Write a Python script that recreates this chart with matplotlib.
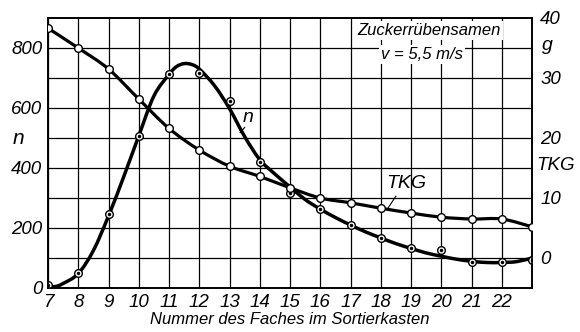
import matplotlib
matplotlib.use("Agg")
import matplotlib.pyplot as plt
from matplotlib.path import Path
from matplotlib.patches import PathPatch

# Messpunkte je Fach
fach = list(range(7, 24))
tkg = [38.3, 35.0, 31.5, 26.5, 21.6, 18.0, 15.3, 13.6, 11.7, 10.0,
       9.2, 8.3, 7.5, 6.8, 6.5, 6.5, 5.2]
n_mess = [10, 50, 247, 507, 715, 717, 623, 420, 317, 263,
          210, 167, 132, 127, 87, 87, 93]

# ausgeglichene Kurve fuer n
kurve_x = [7, 7.25, 7.5, 8, 8.5, 9, 9.5, 10, 10.5, 11, 11.25, 11.5, 11.75,
           12, 12.5, 13, 13.5, 14, 14.5, 15, 15.5, 16, 16.5, 17, 17.5, 18,
           18.5, 19, 19.5, 20, 20.5, 21, 21.5, 22, 22.5, 23]
kurve_n = [3, 5, 15, 48, 125, 240, 370, 507, 640, 712, 738, 748, 745,
           730, 675, 598, 505, 428, 380, 337, 295, 263, 235, 210, 187, 167,
           148, 132, 117, 106, 96, 89, 85, 85, 88, 100]

x_labels = [str(i) for i in range(7, 23)]
n_ticks = [0, 200, 400, 600, 800]
tkg_ticks = [0, 10, 20, 30, 40]


def glatte_kurve(a, xs, ys, **kw):
    """Zeichnet einen glatten Linienzug (Catmull-Rom als Bezier) durch die Punkte."""
    pts = a.transData.transform(list(zip(xs, ys)))
    inv = a.transData.inverted()
    verts = [pts[0]]
    codes = [Path.MOVETO]
    for i in range(len(pts) - 1):
        p0 = pts[max(i - 1, 0)]
        p1 = pts[i]
        p2 = pts[i + 1]
        p3 = pts[min(i + 2, len(pts) - 1)]
        c1 = p1 + (p2 - p0) / 6
        c2 = p2 - (p3 - p1) / 6
        verts += [c1, c2, p2]
        codes += [Path.CURVE4] * 3
    path = Path(inv.transform(verts), codes)
    a.add_patch(PathPatch(path, fill=False, **kw))


plt.rcParams["font.family"] = ["Liberation Sans", "DejaVu Sans"]
plt.rcParams["font.style"] = "italic"
plt.rcParams["font.size"] = 12

fig = plt.figure(figsize=(5.8, 3.32), dpi=100)
ax = fig.add_axes([48 / 580, 1 - 288 / 332, 484 / 580, 270 / 332])
ax2 = ax.twinx()

ax.set_xlim(7, 23)
ax.set_ylim(0, 900)
ax2.set_ylim(-5, 40)

ax.set_xticks(range(7, 24), labels=x_labels + [""])
ax.set_yticks(n_ticks)
ax.set_yticks(range(100, 900, 200), minor=True)
ax.grid(True, which="both", color="black", lw=0.9)
ax.set_axisbelow(True)
ax.tick_params(which="both", length=0, pad=4, labelsize=13.5)
ax2.set_yticks(tkg_ticks)
ax2.tick_params(length=0, pad=6, labelsize=13.5)
for a in (ax, ax2):
    for s in a.spines.values():
        s.set_linewidth(1.2)

ax.set_xlabel("Nummer des Faches im Sortierkasten", labelpad=1)

# n-Kurve
glatte_kurve(ax, kurve_x, kurve_n, edgecolor="black", lw=2.5,
             capstyle="round", joinstyle="round", zorder=3)
ax.plot(fach, n_mess, ls="none", marker="o", ms=5.5, mfc="white",
        mec="black", mew=1.0, zorder=4)
ax.plot(fach, n_mess, ls="none", marker="o", ms=1.5, color="black", zorder=5)

# TKG-Kurve
glatte_kurve(ax2, fach, tkg, edgecolor="black", lw=2.3,
             capstyle="round", joinstyle="round", zorder=3)
ax2.plot(fach, tkg, ls="none", marker="o", ms=5.5, mfc="white",
         mec="black", mew=1.0, zorder=4)

# Beschriftungen im Diagramm
ax.text(13.63, 567, "n", ha="center", va="center", fontsize=14, zorder=6)
ax.plot([13.5, 13.35], [535, 518], color="black", lw=0.8)
ax2.text(18.85, 12.4, "TKG", ha="center", va="center", fontsize=14)
ax2.plot([18.5, 18.25], [10.3, 8.4], color="black", lw=0.8)

box = dict(facecolor="white", edgecolor="none", pad=1.5)
ax.text(19.6, 857, "Zuckerrübensamen", ha="center", va="center",
        fontsize=12, bbox=box, zorder=6)
ax.text(19.37, 777, "v = 5,5 m/s", ha="center", va="center",
        fontsize=12, bbox=box, zorder=6)

fig.text(18 / 580, 1 - 138 / 332, "n", ha="center", va="center", fontsize=15)
fig.text(547 / 580, 1 - 45 / 332, "g", ha="center", va="center", fontsize=14)
fig.text(556 / 580, 1 - 165 / 332, "TKG", ha="center", va="center", fontsize=13.5)

fig.savefig("out.png", dpi=100, facecolor="white")
